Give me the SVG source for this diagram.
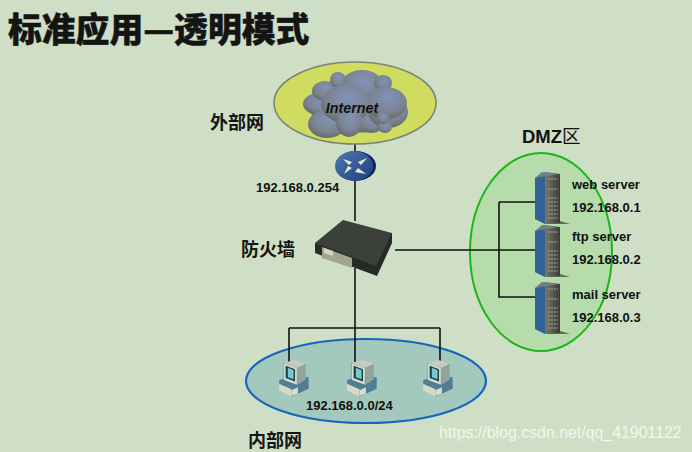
<svg xmlns="http://www.w3.org/2000/svg" width="692" height="452" viewBox="0 0 692 452">
<style>
.l{fill:#111;font-family:"Liberation Sans","Noto Sans CJK SC",sans-serif;font-weight:700;font-size:13px}
.c{fill:#151515;font-family:"Noto Sans CJK SC",sans-serif;font-weight:700;font-size:18px}
.w{fill:none;stroke:#111;stroke-width:1.6}
.cl{fill:url(#cg)}
</style>
<defs>
<radialGradient id="cg" cx="0.55" cy="0.35" r="0.65"><stop offset="0" stop-color="#8293b9"/><stop offset="0.65" stop-color="#7b8492"/><stop offset="1" stop-color="#666d68"/></radialGradient>
<linearGradient id="rg" x1="0" y1="0" x2="1" y2="1"><stop offset="0" stop-color="#4c78b0"/><stop offset="1" stop-color="#1f3f7d"/></linearGradient>
<linearGradient id="sf" x1="0" y1="0" x2="1" y2="0"><stop offset="0" stop-color="#77776a"/><stop offset="1" stop-color="#3c3c35"/></linearGradient>
<g id="server">
<path d="M-13 10 L-1 15 L22 15 L9 11Z" fill="#3f4a3e" opacity=".75"/>
<path d="M-13 -31 L-3 -37 L-3 15 L-13 10Z" fill="#2f6398"/>
<path d="M-3 -37 L12 -35 L12 14 L-3 15Z" fill="url(#sf)"/>
<path d="M-13 -31 L-6 -37 L11 -35 L-1 -33Z" fill="#6f8086"/>
<path d="M0 -30 H10 M0 -20 H10 M0 -11 H10 M0 -7 H10 M0 -3 H10 M0 1 H10 M0 5 H10 M0 9 H10" stroke="#a9ad9e" stroke-width="1.2" stroke-dasharray="2 1"/>
</g>
<g id="pc" transform="scale(.72)">
<path d="M-22 20 L2 29 L19 17 L19 10 L-2 8 L-22 14Z" fill="#4e7d96"/>
<path d="M-22 19 L-5 27 L-5 37 L-22 28Z" fill="#d9d9cb"/>
<path d="M-5 27 L19 17 L19 26 L-5 37Z" fill="#4e7d96"/>
<path d="M-5 28 L4 24 L4 33 L-5 36Z" fill="#dcdccc"/>
<path d="M-16 -10 L3 -3 L3 21 L-16 14Z" fill="#d7dcd0" stroke="#66756f" stroke-width=".6"/>
<path d="M3 -3 L15 -9 L15 13 L3 21Z" fill="#92a59d"/>
<path d="M-16 -10 L-1 -14 L15 -9 L3 -3Z" fill="#c5cdc2"/>
<path d="M-13 -6 L0 -1 L0 16 L-13 11Z" fill="#123f4c"/>
<path d="M-10 -3 L-2 0 L-2 13 L-10 10Z" fill="#7fc6d0"/>
</g>
</defs>
<rect width="692" height="452" fill="#cfdfc5"/>
<text x="8" y="42" style="font-family:'Noto Sans CJK SC',sans-serif;font-weight:900;font-size:33.8px;fill:#141414;stroke:#141414;stroke-width:.5">标准应用—透明模式</text>
<ellipse id="dmz-zone" cx="541" cy="252" rx="71" ry="99" fill="#b6dcab" stroke="#16b716" stroke-width="2"/>
<ellipse id="lan-zone" cx="366" cy="381" rx="120" ry="42" fill="#a3c8bd" stroke="#1565bd" stroke-width="2.2"/>
<g id="connectors">
<path class="w" d="M355 137V152M355 178V221M355 268V362M395 250H538M499 202H538M499 202V297H538M289 328H440M289 328V362M440 328V362"/>
</g>
<g id="internet">
<ellipse cx="355" cy="103" rx="81" ry="41" fill="#cfdc60" stroke="#7b8577" stroke-width="1.6"/>
<ellipse cx="355" cy="106" rx="46" ry="27" fill="#70787c"/>
<ellipse class="cl" cx="319" cy="104" rx="16" ry="11"/><ellipse class="cl" cx="327" cy="124" rx="19" ry="14"/><ellipse class="cl" cx="371" cy="122" rx="14" ry="11"/>
<ellipse class="cl" cx="388" cy="112" rx="20" ry="16"/><ellipse class="cl" cx="325" cy="91" rx="13" ry="10"/>
<ellipse class="cl" cx="362" cy="87" rx="22" ry="17"/><ellipse class="cl" cx="338" cy="80" rx="8" ry="8"/><ellipse class="cl" cx="383" cy="83" rx="9" ry="8"/>
<ellipse class="cl" cx="386" cy="103" rx="21" ry="16"/><ellipse class="cl" cx="346" cy="104" rx="25" ry="19"/>
<ellipse class="cl" cx="349" cy="122" rx="13" ry="15"/><ellipse class="cl" cx="385" cy="127" rx="7" ry="6"/><ellipse class="cl" cx="383" cy="118" rx="6" ry="6"/>
<text x="352" y="113" text-anchor="middle" style="font-family:'Liberation Sans',sans-serif;font-weight:700;font-style:italic;font-size:14.3px;fill:#111">Internet</text>
</g>
<g id="router">
<ellipse cx="356" cy="166" rx="20" ry="15" fill="#101f66"/>
<ellipse cx="354" cy="166" rx="19" ry="15" fill="url(#rg)"/>
<path d="M343 159L352 162L349 165ZM367 158L358 162L361 165ZM344 174L352 168L348 166ZM366 174L358 168L355 172Z" fill="#e4ead8"/>
<text x="256" y="192" class="l">192.168.0.254</text>
</g>
<g id="firewall">
<path d="M315 243L315 253L377 276L392 243L392 233Z" fill="#282a27"/>
<path d="M315 243L343 220L392 233L376 266Z" fill="#3c403a"/>
<path d="M322 247L352 258L352 268L322 258Z" fill="#a4a58f"/>
<path d="M324 248L333 251L333 256L324 253Z" fill="#d6d6bd"/>
<text x="241" y="256" class="c">防火墙</text>
</g>
<text id="dmz-label" x="522" y="143" style="font-family:'Liberation Sans','Noto Sans CJK SC',sans-serif;font-weight:700;font-size:18.5px;fill:#111">DMZ<tspan style="font-weight:400">区</tspan></text>
<g id="web-server"><use href="#server" x="548" y="209"/><text x="572" y="189" class="l">web server</text><text x="572" y="212" class="l">192.168.0.1</text></g>
<g id="ftp-server"><use href="#server" x="548" y="262"/><text x="572" y="241" class="l">ftp server</text><text x="572" y="264" class="l">192.168.0.2</text></g>
<g id="mail-server"><use href="#server" x="548" y="319"/><text x="572" y="299" class="l">mail server</text><text x="572" y="322" class="l">192.168.0.3</text></g>
<g id="lan">
<use href="#pc" x="295" y="370"/><use href="#pc" x="363" y="370"/><use href="#pc" x="439" y="370"/>
<text x="306" y="410" class="l">192.168.0.0/24</text>
</g>
<text id="outer-label" x="210" y="129" class="c">外部网</text>
<text id="inner-label" x="248" y="447" class="c">内部网</text>
<text x="439" y="438" style="font-family:'Liberation Sans',sans-serif;font-size:15.9px;fill:#fff;fill-opacity:.72">https://blog.csdn.net/qq_41901122</text>
</svg>
